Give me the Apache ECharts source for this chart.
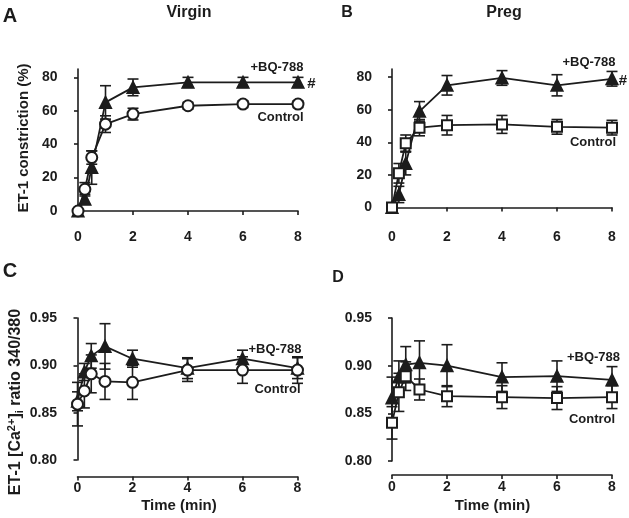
<!DOCTYPE html>
<html><head><meta charset="utf-8">
<script src="https://cdn.jsdelivr.net/npm/echarts@6/dist/echarts.min.js"></script>
<style>html,body{margin:0;padding:0;background:#fff}#c{width:629px;height:518px}</style>
</head><body><div id="c"></div>
<script>
const time = [0, 0.25, 0.5, 1, 2, 4, 6, 8];
const xTicks = [0, 2, 4, 6, 8];
const pctTicks = [0, 20, 40, 60, 80];
const ratioTicks = [0.80, 0.85, 0.90, 0.95];

const A_ctrl = [0, 13, 32, 52, 58, 63, 64, 64];
const A_ctrl_err = [0, 4, 4, 5, 3.5, 2, 2, 2];
const A_bq = [0, 7, 26, 65, 74, 77, 77, 77];
const A_bq_err = [0, 3, 10, 10, 5, 3, 3, 3];

const B_ctrl = [0, 21, 39.5, 49, 50.5, 51, 49.5, 49];
const B_ctrl_err = [0, 6, 5, 5, 6, 5.5, 4.5, 4.5];
const B_bq = [0, 8, 27, 59, 75, 79.5, 75, 79];
const B_bq_err = [0, 5, 7, 6, 6, 4.5, 6.5, 4.5];

const C_ctrl = [0.859, 0.873, 0.891, 0.883, 0.882, 0.895, 0.895, 0.895];
const C_ctrl_err = [0.023, 0.018, 0.02, 0.019, 0.018, 0.012, 0.014, 0.014];
const C_bq = [0.862, 0.893, 0.910, 0.920, 0.907, 0.897, 0.907, 0.897];
const C_bq_err = [0.01, 0.009, 0.013, 0.024, 0.009, 0.011, 0.009, 0.011];

const D_ctrl = [0.840, 0.872, 0.889, 0.875, 0.868, 0.867, 0.866, 0.867];
const D_ctrl_err = [0.017, 0.02, 0.015, 0.011, 0.011, 0.012, 0.012, 0.012];
const D_bq = [0.866, 0.888, 0.901, 0.903, 0.900, 0.888, 0.889, 0.885];
const D_bq_err = [0.022, 0.017, 0.019, 0.023, 0.022, 0.015, 0.016, 0.014];

const INK = '#1c1c1c';
const FONT = 'Liberation Sans, Arial, sans-serif';

const grids = [
  {left: 78, top: 69, width: 220, height: 142},
  {left: 392, top: 69, width: 220, height: 138.5},
  {left: 77.5, top: 318, width: 220, height: 142},
  {left: 392, top: 318, width: 220, height: 143}
];
const xOff = [14.5, 18, 16.5, 14];
const yOff = [15.5, 15, 15.5, 15];

const xAxes = grids.map((g, i) => ({
  type: 'value', gridIndex: i, min: 0, max: 8, interval: 2, offset: xOff[i],
  axisLine: {lineStyle: {color: INK, width: 1.6}},
  axisTick: {length: 4, lineStyle: {color: INK, width: 1.6}},
  axisLabel: {color: INK, fontSize: 14, fontWeight: 'bold', fontFamily: FONT, margin: 5},
  splitLine: {show: false}
}));
const yAxes = grids.map((g, i) => {
  const pct = i < 2;
  return {
    type: 'value', gridIndex: i, offset: yOff[i],
    min: pct ? 0 : 0.8, max: pct ? 85 : 0.95, interval: pct ? 20 : 0.05,
    axisLine: {show: true, lineStyle: {color: INK, width: 1.6}},
    axisTick: {show: true, length: 4, lineStyle: {color: INK, width: 1.6},
      customValues: pct ? pctTicks : ratioTicks},
    axisLabel: {color: INK, fontSize: 14, fontWeight: 'bold', fontFamily: FONT, margin: 5,
      customValues: pct ? pctTicks : ratioTicks,
      formatter: v => pct ? String(Math.round(v)) : Number(v).toFixed(2)},
    splitLine: {show: false}
  };
});

function errSeries(idx, vals, errs) {
  return {
    type: 'custom', xAxisIndex: idx, yAxisIndex: idx, z: 1,
    data: time.map((t, k) => [t, vals[k], errs[k]]),
    renderItem: function (params, api) {
      const x = api.value(0), y = api.value(1), e = api.value(2);
      if (!e) return null;
      const hi = api.coord([x, y + e]), lo = api.coord([x, y - e]);
      const w = 5.5;
      const st = {stroke: INK, lineWidth: 1.6};
      return {type: 'group', children: [
        {type: 'line', shape: {x1: hi[0], y1: hi[1], x2: lo[0], y2: lo[1]}, style: st},
        {type: 'line', shape: {x1: hi[0] - w, y1: hi[1], x2: hi[0] + w, y2: hi[1]}, style: st},
        {type: 'line', shape: {x1: lo[0] - w, y1: lo[1], x2: lo[0] + w, y2: lo[1]}, style: st}
      ]};
    }
  };
}
function lineSeries(idx, vals, symbol, filled, size) {
  return {
    type: 'line', xAxisIndex: idx, yAxisIndex: idx, z: 3,
    data: time.map((t, k) => [t, vals[k]]),
    symbol: symbol, symbolSize: size, showSymbol: true,
    lineStyle: {color: INK, width: 1.8},
    itemStyle: {color: filled ? INK : '#fff', borderColor: INK, borderWidth: 2},
    animation: false
  };
}

const panels = [
  [A_ctrl, A_ctrl_err, A_bq, A_bq_err, 'circle'],
  [B_ctrl, B_ctrl_err, B_bq, B_bq_err, 'rect'],
  [C_ctrl, C_ctrl_err, C_bq, C_bq_err, 'circle'],
  [D_ctrl, D_ctrl_err, D_bq, D_bq_err, 'rect']
];
const series = [];
panels.forEach((p, i) => {
  series.push(errSeries(i, p[2], p[3]));
  series.push(errSeries(i, p[0], p[1]));
  series.push(lineSeries(i, p[2], 'triangle', true, 11));
  series.push(lineSeries(i, p[0], p[4], false, p[4] === 'rect' ? 10 : 11));
});

function txt(x, y, s, size, extra) {
  return Object.assign({type: 'text', x: x, y: y, style: {text: s, fill: INK,
    font: 'bold ' + size + 'px ' + FONT, textAlign: 'center', textVerticalAlign: 'middle'}}, extra || {});
}
const graphics = [
  txt(10, 16, 'A', 20), txt(189, 13, 'Virgin', 16),
  txt(347, 13, 'B', 16), txt(504, 13, 'Preg', 16),
  txt(10, 271, 'C', 20), txt(338, 278, 'D', 16),
  txt(277, 67.5, '+BQ-788', 13), txt(311.5, 84, '#', 15), txt(280.5, 117.5, 'Control', 13),
  txt(589, 62.5, '+BQ-788', 13), txt(623, 81, '#', 15), txt(593, 142.5, 'Control', 13),
  txt(275, 349.5, '+BQ-788', 13), txt(277.5, 389.5, 'Control', 13),
  txt(593.5, 357.5, '+BQ-788', 13), txt(592, 419, 'Control', 13),
  txt(179, 506, 'Time (min)', 15), txt(492.5, 506, 'Time (min)', 15),
  {type: 'text', x: 24, y: 138, rotation: Math.PI / 2,
    style: {text: 'ET-1 constriction (%)', fill: INK, font: 'bold 15px ' + FONT,
      textAlign: 'center', textVerticalAlign: 'middle'}},
  {type: 'text', x: 16, y: 402, rotation: Math.PI / 2,
    style: {text: 'ET-1 [Ca{sup|2+}]{sub|i} ratio 340/380', fill: INK, font: 'bold 16px ' + FONT,
      textAlign: 'center', textVerticalAlign: 'middle',
      rich: {sup: {font: 'bold 11px ' + FONT, fill: INK, verticalAlign: 'top', padding: [0, 0, 8, 0]},
             sub: {font: 'bold 11px ' + FONT, fill: INK, verticalAlign: 'bottom', padding: [6, 0, 0, 0]}}}}
];

const chart = echarts.init(document.getElementById('c'), null, {renderer: 'canvas'});
chart.setOption({
  animation: false,
  backgroundColor: '#fff',
  grid: grids.map(g => Object.assign({containLabel: false}, g)),
  xAxis: xAxes, yAxis: yAxes, series: series, graphic: graphics
});
</script></body></html>
